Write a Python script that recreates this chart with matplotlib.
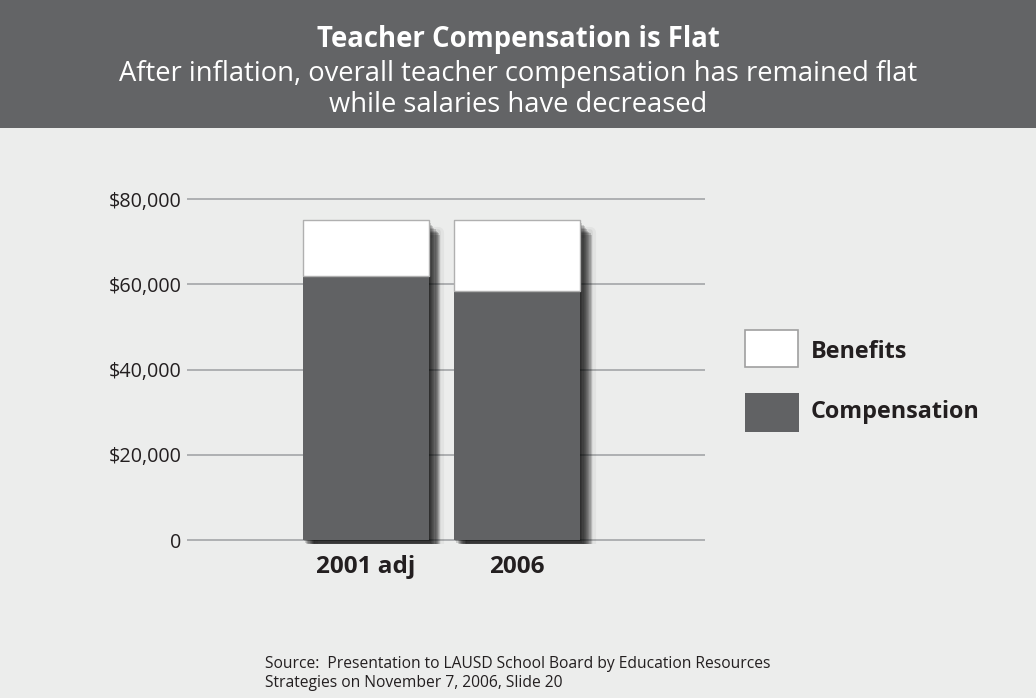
import matplotlib
matplotlib.use("Agg")
import matplotlib.pyplot as plt
from matplotlib.patches import Rectangle
import matplotlib.patheffects as pe

# ---- data ----
categories = ["2001 adj", "2006"]
compensation = [62000, 58500]
benefits = [13000, 16500]
yticks = [0, 20000, 40000, 60000, 80000]
ytick_labels = ["0", "$20,000", "$40,000", "$60,000", "$80,000"]
series_names = ["Benefits", "Compensation"]

title = "Teacher Compensation is Flat"
subtitle1 = "After inflation, overall teacher compensation has remained flat"
subtitle2 = "while salaries have decreased"
source1 = "Source:  Presentation to LAUSD School Board by Education Resources"
source2 = "Strategies on November 7, 2006, Slide 20"

# ---- style ----
W, H = 1036, 698
BG = "#ecedec"
HEADER = "#636466"
DARK = "#616264"
GRID = "#a9abad"
TEXT = "#231f20"
FONT = "Open Sans"

plt.rcParams["font.family"] = [FONT, "DejaVu Sans"]

fig = plt.figure(figsize=(W / 100, H / 100), dpi=100, facecolor=BG)


def fy(py):
    return 1 - py / H


# header band
fig.patches.append(Rectangle((0, fy(128)), 1, 128 / H, transform=fig.transFigure,
                             facecolor=HEADER, edgecolor="none", zorder=0))
fig.text(0.5, fy(40), title, ha="center", va="center", color="white",
         fontsize=19.8, fontweight="bold")
fig.text(0.5, fy(74), subtitle1, ha="center", va="center", color="white", fontsize=19.7)
fig.text(0.5, fy(105), subtitle2, ha="center", va="center", color="white", fontsize=19.7)

# axes geometry: 0 at y=540px, 80000 at y=199px
ppu = (540 - 199) / 80000
ymin, ymax = -1000, 82000
ax_bottom = 540 + (-ymin) * ppu
ax_top = 199 - (ymax - 80000) * ppu
ax = fig.add_axes([187 / W, fy(ax_bottom), (705 - 187) / W, (ax_bottom - ax_top) / H])
ax.set_facecolor("none")
ax.set_ylim(ymin, ymax)

x = [0, 1]
xl = -(365.5 - 187) / 151.5
xr = 1 + (705 - 517) / 151.5
ax.set_xlim(xl, xr)
bw = 126 / 151.5

totals = [c + b for c, b in zip(compensation, benefits)]

# shadow base bars: directional soft drop shadow to the lower right
shadow_fx = []
for w, a in [(8, 0.04), (4, 0.06)]:
    shadow_fx.append(pe.Stroke(offset=(7, -8.5), linewidth=w, foreground="black",
                               alpha=a, joinstyle="round"))
for k in range(1, 11):
    shadow_fx.append(pe.SimplePatchShadow(offset=(0.85 * k, -1.05 * k),
                                          shadow_rgbFace="black", alpha=0.14))
shadow_fx.append(pe.Normal())
base = ax.bar(x, totals, width=bw, color=DARK, edgecolor="none", zorder=2)
for p in base:
    p.set_path_effects(shadow_fx)

ax.bar(x, compensation, width=bw, color=DARK, edgecolor="none", zorder=3,
       label=series_names[1])
ax.bar(x, benefits, bottom=compensation, width=bw, color="white",
       edgecolor="#b0b0b0", linewidth=1, zorder=3, label=series_names[0])

ax.set_yticks(yticks)
ax.set_yticklabels(ytick_labels, fontsize=14.2, color=TEXT)
ax.yaxis.grid(True, color=GRID, linewidth=1.3)
ax.set_axisbelow(True)
ax.set_xticks(x)
ax.set_xticklabels(categories, fontsize=17.5, fontweight="bold", color=TEXT)
ax.tick_params(axis="y", length=0, pad=4)
ax.tick_params(axis="x", length=0, pad=8)
for s in ax.spines.values():
    s.set_visible(False)

# legend (manual)
fig.patches.append(Rectangle((745 / W, fy(367)), 53 / W, 37 / H, transform=fig.transFigure,
                             facecolor="white", edgecolor="#a0a0a0", linewidth=1.2, zorder=3))
fig.patches.append(Rectangle((745 / W, fy(432)), 54 / W, 39 / H, transform=fig.transFigure,
                             facecolor=DARK, edgecolor="none", zorder=3))
fig.text(811 / W, fy(352), series_names[0], ha="left", va="center", fontsize=16.8,
         fontweight="bold", color=TEXT)
fig.text(811 / W, fy(412), series_names[1], ha="left", va="center", fontsize=16.8,
         fontweight="bold", color=TEXT)

# source
fig.text(265 / W, fy(664), source1, ha="left", va="center", fontsize=11.25, color=TEXT)
fig.text(265 / W, fy(683), source2, ha="left", va="center", fontsize=11.25, color=TEXT)

fig.savefig("out.png", dpi=100, facecolor=BG)
